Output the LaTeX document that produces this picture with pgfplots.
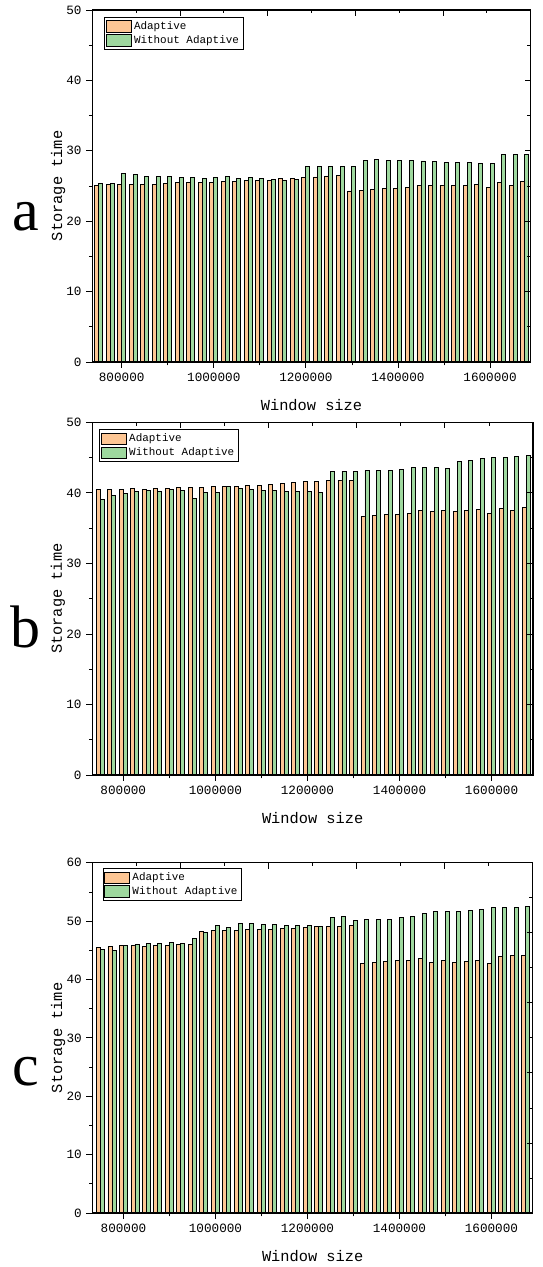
\documentclass[border=0pt]{standalone}
\usepackage{fontspec}
\setmainfont{Liberation Mono}
\newfontfamily\letterfont{Liberation Serif}
\usepackage{pgfplots}
\usepackage{pgfplotstable}
\pgfplotsset{compat=1.18}

\definecolor{adorange}{RGB}{253,198,148}
\definecolor{wogreen}{RGB}{158,216,158}

% x = window size, ad = Adaptive, wo = Without Adaptive
\pgfplotstableread{
x ad wo
750000 25.10 25.40
775000 25.20 25.40
800000 25.20 26.75
825000 25.20 26.60
850000 25.20 26.30
875000 25.20 26.35
900000 25.40 26.35
925000 25.45 26.25
950000 25.50 26.20
975000 25.50 26.10
1000000 25.55 26.20
1025000 25.65 26.35
1050000 25.70 26.00
1075000 25.75 26.20
1100000 25.85 26.00
1125000 25.85 25.95
1150000 26.00 25.85
1175000 26.10 25.95
1200000 26.25 27.75
1225000 26.28 27.80
1250000 26.42 27.75
1275000 26.47 27.75
1300000 24.29 27.75
1325000 24.39 28.65
1350000 24.49 28.79
1375000 24.62 28.65
1400000 24.67 28.65
1425000 24.81 28.60
1450000 25.10 28.55
1475000 25.05 28.50
1500000 25.14 28.30
1525000 25.05 28.27
1550000 25.10 28.27
1575000 25.24 28.22
1600000 24.81 28.17
1625000 25.47 29.45
1650000 25.10 29.45
1675000 25.66 29.50
}\dataa

\pgfplotstableread{
x ad wo
750000 40.48 39.10
775000 40.48 39.67
800000 40.48 39.90
825000 40.57 40.24
850000 40.48 40.33
875000 40.57 40.24
900000 40.67 40.48
925000 40.81 40.33
950000 40.81 39.20
975000 40.81 40.05
1000000 40.86 40.10
1025000 40.90 40.90
1050000 40.95 40.62
1075000 41.05 40.52
1100000 41.10 40.33
1125000 41.19 40.33
1150000 41.38 40.24
1175000 41.47 40.20
1200000 41.57 40.24
1225000 41.62 40.00
1250000 41.76 43.08
1275000 41.76 43.08
1300000 41.76 43.08
1325000 36.65 43.13
1350000 36.80 43.13
1375000 36.88 43.13
1400000 36.97 43.37
1425000 37.07 43.56
1450000 37.44 43.56
1475000 37.36 43.56
1500000 37.44 43.50
1525000 37.36 44.46
1550000 37.44 44.55
1575000 37.59 44.83
1600000 37.07 45.07
1625000 37.78 45.07
1650000 37.44 45.11
1675000 37.97 45.26
}\datab

\pgfplotstableread{
x ad wo
750000 45.43 45.15
775000 45.60 45.03
800000 45.77 45.77
825000 45.77 46.06
850000 45.66 46.18
875000 45.77 46.12
900000 45.83 46.35
925000 45.94 46.18
950000 45.94 47.09
975000 48.29 48.06
1000000 48.35 49.20
1025000 48.35 48.97
1050000 48.46 49.66
1075000 48.57 49.60
1100000 48.57 49.43
1125000 48.63 49.50
1150000 48.74 49.26
1175000 48.80 49.26
1200000 48.97 49.32
1225000 49.03 49.14
1250000 49.14 50.63
1275000 49.14 50.74
1300000 49.20 50.06
1325000 42.75 50.29
1350000 42.92 50.29
1375000 43.03 50.35
1400000 43.20 50.57
1425000 43.32 50.74
1450000 43.61 51.31
1475000 42.92 51.71
1500000 43.20 51.71
1525000 42.92 51.66
1550000 43.09 51.77
1575000 43.26 52.00
1600000 42.75 52.28
1625000 43.89 52.28
1650000 44.12 52.34
1675000 44.18 52.45
}\datac

\pgfplotsset{
  panel/.style={
    scale only axis,
    anchor=south west,
    ymin=0, enlargelimits=false,
    ybar, bar width=3pt,
    xtick={800000,1000000,...,1600000},
    minor x tick num=1, minor y tick num=1,
    scaled x ticks=false,
    xticklabel style={/pgf/number format/fixed,/pgf/number format/1000 sep={}},
    /pgf/number format/assume math mode=true,
    tick align=outside, xtick pos=left, ytick pos=left,
    major tick length=4.5pt, minor tick length=2.5pt,
    tick style={black, line width=0.6pt},
    axis line style={line width=0.8pt},
    ticklabel style={font=\fontsize{9.5}{10}\selectfont},
    label style={font=\fontsize{11.5}{12}\selectfont},
    xlabel={Window size}, ylabel={Storage time},
    xlabel style={at={(axis description cs:0.5,-0.122)}, anchor=center},
    ylabel style={at={(axis description cs:-0.078,0.5)}, anchor=center},
    legend cell align=left,
    legend style={draw=black, line width=0.6pt, anchor=north west,
      font=\fontsize{8.2}{9}\selectfont, inner sep=1pt, row sep=-1pt,
      /tikz/every even column/.append style={column sep=2pt}},
    legend image code/.code={\draw[##1,line width=0.6pt] (0pt,-4.3pt) rectangle (18.5pt,4.3pt);},
  },
  frame/.style={
    scale only axis, anchor=south west,
    xmin=0, xmax=100, xtick={0,20,...,100},
    minor x tick num=1, minor y tick num=1,
    tick align=inside, xtick pos=right, ytick pos=right,
    xticklabels={}, yticklabels={},
    major tick length=4.5pt, minor tick length=2.5pt,
    tick style={black, line width=0.6pt},
    axis line style={line width=0.8pt},
  },
  adbar/.style={fill=adorange, draw=black, line width=0.7pt, bar shift=-1.5pt},
  wobar/.style={fill=wogreen, draw=black, line width=0.7pt, bar shift=1.5pt},
}

\begin{document}
\begin{tikzpicture}
\path (0pt,0pt) rectangle (402pt,950.25pt);

% ---- panel a ----
\begin{axis}[panel, at={(69.225pt,678.75pt)}, width=328.8pt, height=264pt,
  xmin=736140, xmax=1688350, ymax=50, ytick={0,10,...,50},
  legend style={at={(0.027,0.980)}}]
\addplot[adbar] table[x=x, y=ad] {\dataa};
\addplot[wobar] table[x=x, y=wo] {\dataa};
\legend{Adaptive, Without Adaptive}
\end{axis}
\begin{axis}[frame, at={(69.225pt,678.75pt)}, width=328.8pt, height=264pt,
  ymin=0, ymax=50, ytick={0,10,...,50}]
\end{axis}

% ---- panel b ----
\begin{axis}[panel, at={(69.225pt,369pt)}, width=330.5pt, height=264.5pt,
  xmin=732670, xmax=1689880, ymax=50, ytick={0,10,...,50},
  legend style={at={(0.016,0.980)}}]
\addplot[adbar] table[x=x, y=ad] {\datab};
\addplot[wobar] table[x=x, y=wo] {\datab};
\legend{Adaptive, Without Adaptive}
\end{axis}
\begin{axis}[frame, at={(69.225pt,369pt)}, width=330.5pt, height=264.5pt,
  ymin=0, ymax=50, ytick={0,10,...,50}]
\end{axis}

% ---- panel c ----
\begin{axis}[panel, at={(69.375pt,40.5pt)}, width=330.2pt, height=262.7pt,
  xmin=732670, xmax=1689880, ymax=60, ytick={0,10,...,60},
  legend style={at={(0.023,0.984)}}]
\addplot[adbar] table[x=x, y=ad] {\datac};
\addplot[wobar] table[x=x, y=wo] {\datac};
\legend{Adaptive, Without Adaptive}
\end{axis}
\begin{axis}[frame, at={(69.375pt,40.5pt)}, width=330.2pt, height=262.7pt,
  ymin=0, ymax=50, ytick={0,10,...,50}]
\end{axis}

% panel letters
\node[anchor=base, font=\letterfont\fontsize{45}{45}\selectfont] at (19.5pt,777pt) {a};
\node[anchor=base, font=\letterfont\fontsize{45}{45}\selectfont] at (19.5pt,464.25pt) {b};
\node[anchor=base, font=\letterfont\fontsize{45}{45}\selectfont] at (19.5pt,135.75pt) {c};
\end{tikzpicture}
\end{document}
